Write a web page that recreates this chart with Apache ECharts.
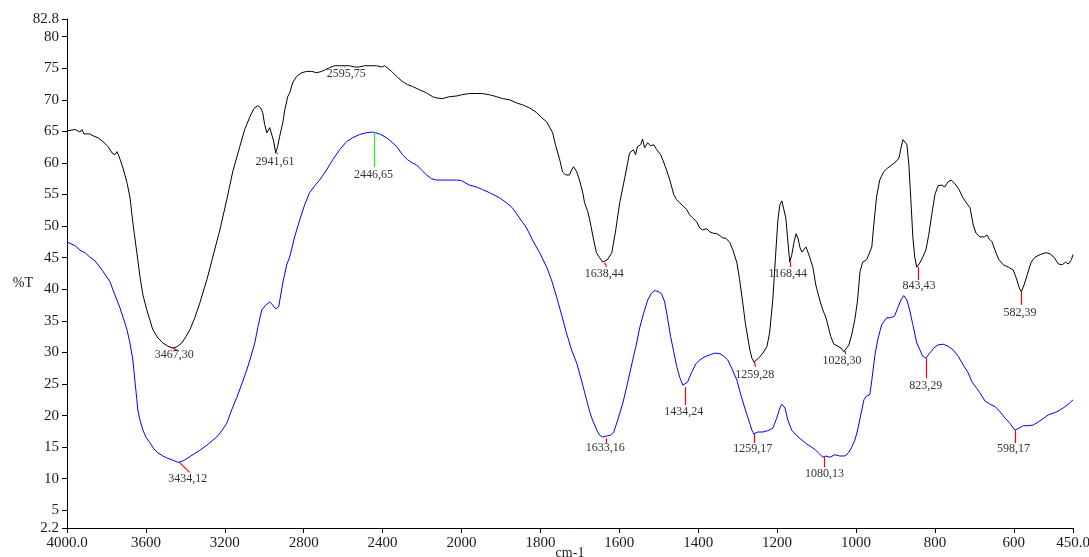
<!DOCTYPE html>
<html>
<head>
<meta charset="utf-8">
<script src="https://cdn.jsdelivr.net/npm/echarts@6/dist/echarts.min.js"></script>
<style>
html,body{margin:0;padding:0;background:#fff;}
#chart{width:1089px;height:557px;}
</style>
</head>
<body>
<div id="chart"></div>
<script>
// ---- DATA ----
const blackWn = [4000,3959,3934,3924,3914,3884,3868,3843,3818,3792,3772,3757,3747,3737,3716,3696,3681,3666,3646,3630,3615,3595,3565,3539,3514,3489,3463,3443,3418,3397,3377,3352,3327,3291,3261,3225,3190,3160,3124,3099,3073,3053,3033,3018,3008,2998,2987,2972,2962,2952,2942,2932,2922,2906,2896,2881,2871,2856,2836,2810,2785,2760,2734,2709,2689,2668,2643,2618,2593,2567,2542,2517,2491,2466,2430,2405,2390,2380,2354,2329,2299,2273,2248,2213,2177,2147,2127,2096,2061,2025,2000,1980,1962,1947,1929,1911,1896,1878,1860,1845,1827,1810,1797,1784,1777,1769,1762,1751,1744,1736,1726,1721,1716,1708,1701,1693,1688,1680,1675,1665,1658,1650,1642,1637,1630,1619,1609,1599,1586,1574,1564,1559,1554,1546,1541,1536,1528,1521,1513,1505,1500,1495,1490,1482,1472,1462,1455,1447,1437,1429,1422,1414,1404,1396,1389,1378,1371,1363,1353,1345,1337,1330,1320,1312,1302,1295,1287,1280,1269,1264,1259,1252,1244,1234,1226,1219,1211,1203,1198,1193,1188,1183,1178,1173,1168,1163,1157,1152,1147,1142,1137,1132,1127,1122,1117,1109,1102,1092,1084,1076,1071,1064,1056,1046,1038,1031,1026,1018,1011,1003,996,990,983,973,965,960,955,948,940,930,920,909,899,891,886,881,876,871,866,861,856,851,846,838,831,823,816,808,800,792,782,775,767,759,749,739,729,718,711,703,696,686,675,668,663,655,648,638,627,614,602,594,586,581,574,566,556,546,533,518,508,497,487,477,469,462,454,450];
const blackT = [65.1,65.3,64.9,65.3,64.6,64.6,64.3,64.0,63.4,62.6,61.6,61.3,61.8,61.1,59.2,56.9,54.6,50.5,45.8,42.0,39.1,36.7,33.6,32.3,31.5,31.0,30.7,30.9,31.5,32.5,33.6,35.5,37.8,41.5,45.1,49.4,54.2,58.6,62.6,65.3,67.3,68.6,69.1,68.7,68.0,66.1,64.8,65.6,65.3,63.4,61.6,62.6,64.2,66.4,68.4,70.5,71.1,72.7,73.7,74.3,74.5,74.5,74.3,74.5,74.8,75.1,75.4,75.4,75.4,75.4,75.2,75.2,75.4,75.4,75.4,75.2,75.4,75.1,74.5,73.7,72.9,72.4,72.1,71.6,71.1,70.5,70.3,70.2,70.5,70.6,70.8,71.0,71.0,71.0,70.8,70.5,70.2,70.0,69.5,69.2,68.7,68.0,67.2,66.5,65.7,64.8,62.9,60.5,58.6,58.1,58.1,58.9,59.4,58.6,57.3,55.4,53.7,52.3,51.0,47.8,45.8,45.0,44.3,44.2,44.7,45.8,49.4,53.7,57.7,61.6,62.1,61.3,62.6,62.9,63.8,62.4,63.2,62.7,62.9,62.1,62.4,61.3,61.0,59.2,57.3,55.0,54.2,53.7,53.1,52.6,51.8,51.3,50.7,49.7,49.4,49.6,49.1,48.9,48.8,48.5,48.1,48.1,47.4,46.2,44.2,41.5,37.8,34.4,30.4,29.1,28.5,28.8,29.3,30.1,30.9,33.1,38.3,46.2,51.0,53.4,54.0,53.7,51.3,47.8,44.3,45.4,47.5,48.8,48.1,46.6,45.9,46.2,46.7,45.9,45.0,43.4,40.7,38.3,36.7,35.5,35.2,32.5,31.3,31.0,30.7,30.1,30.2,31.2,32.8,35.2,38.3,42.8,44.3,44.7,45.9,46.7,50.2,54.6,57.3,58.6,59.2,59.7,60.2,60.8,62.4,63.7,63.8,62.9,59.7,54.2,48.3,45.0,43.5,44.2,45.1,46.2,48.5,51.8,55.0,56.4,56.5,56.2,57.0,57.3,56.7,55.8,54.5,53.5,52.9,50.2,48.9,48.3,48.3,48.6,48.0,47.5,46.2,44.7,43.9,43.5,43.1,41.8,40.2,39.6,40.7,42.3,44.3,45.1,45.5,45.8,45.6,45.0,44.0,43.9,44.3,44.0,44.7,45.5];

const blueWn = [4000,3959,3934,3909,3884,3858,3833,3808,3782,3767,3747,3732,3716,3696,3681,3666,3656,3646,3641,3630,3615,3600,3580,3559,3539,3514,3494,3468,3438,3413,3387,3357,3327,3291,3261,3241,3215,3190,3165,3139,3114,3089,3068,3048,3033,3013,2992,2972,2957,2942,2927,2906,2886,2871,2846,2820,2795,2770,2744,2719,2684,2653,2618,2582,2552,2517,2481,2451,2415,2380,2349,2324,2299,2273,2248,2228,2203,2177,2152,2127,2086,2051,2025,2000,1980,1962,1947,1929,1904,1886,1871,1853,1835,1820,1802,1784,1772,1759,1746,1734,1721,1708,1696,1683,1675,1668,1657,1650,1642,1637,1630,1622,1614,1604,1591,1579,1566,1556,1548,1538,1528,1518,1510,1500,1493,1485,1477,1470,1462,1455,1447,1439,1434,1427,1417,1406,1396,1384,1371,1358,1345,1335,1325,1315,1302,1292,1282,1272,1264,1259,1249,1236,1224,1211,1201,1193,1188,1180,1173,1163,1150,1137,1125,1112,1102,1092,1084,1076,1066,1054,1041,1028,1018,1011,1003,996,988,980,973,965,960,952,945,935,922,912,902,894,886,879,871,864,856,846,838,831,823,813,803,792,779,767,754,741,728,716,706,696,686,673,660,647,635,622,609,597,587,576,564,551,538,526,513,500,488,475,462,450];
const blueT = [47.5,46.9,46.2,45.8,45.1,44.5,43.5,42.4,41.2,39.9,38.3,37.1,35.6,33.6,31.5,28.8,25.6,22.5,20.9,19.3,17.7,16.6,15.7,14.7,14.1,13.6,13.3,13.0,12.6,12.8,13.3,13.9,14.5,15.3,16.1,16.6,17.6,18.8,20.9,22.9,25.0,27.2,29.3,31.5,33.9,36.7,37.5,38.0,37.5,36.9,37.2,41.0,43.9,45.1,48.3,51.0,53.4,55.3,56.4,57.3,58.9,60.5,62.1,63.4,64.0,64.5,64.8,64.9,64.6,64.0,63.2,62.4,61.3,60.5,60.0,59.7,58.9,58.1,57.5,57.3,57.3,57.3,57.3,57.2,56.5,56.2,55.8,55.3,54.5,53.7,52.9,51.3,49.7,47.8,45.8,43.5,41.5,38.8,35.9,33.1,30.4,28.3,25.6,22.5,20.6,19.3,17.7,16.9,16.6,16.4,16.8,16.9,17.4,19.3,22.0,25.2,28.8,31.5,34.0,36.3,38.3,39.4,39.8,39.6,39.3,38.0,35.2,32.5,30.1,27.9,26.1,24.8,24.5,25.3,26.8,28.2,28.8,29.3,29.6,29.9,29.8,29.4,28.8,27.5,25.6,23.3,21.2,19.3,17.7,17.1,17.4,17.4,17.6,18.0,19.6,21.2,21.8,21.2,19.3,17.7,16.8,16.1,15.5,15.0,14.5,13.9,13.4,13.6,13.4,13.8,13.6,13.6,14.2,15.0,16.1,17.7,20.1,22.5,23.1,23.3,25.6,29.6,32.0,34.4,35.5,35.5,35.8,37.1,38.3,39.0,38.3,36.7,34.4,31.5,30.4,29.4,29.1,29.9,30.7,31.2,31.3,31.0,30.4,29.4,28.0,26.8,25.3,24.5,23.6,22.3,21.8,21.4,20.6,19.6,18.7,17.7,18.0,18.4,18.4,18.5,19.0,19.5,20.1,20.4,20.7,21.2,21.8,22.5];

// peak annotations
const peakWn    = [3467, 2941, 2595, 1638, 1168, 1259, 1028, 843, 582, 3434, 2446, 1633, 1434, 1259, 1080, 823, 598];
const peakT     = [30.7, 61.6, 75.4, 44.2, 44.3, 28.5, 30.2, 43.5, 39.6, 12.6, 64.9, 16.4, 24.5, 17.1, 13.4, 29.1, 17.7];
const peakLabel = ['3467,30','2941,61','2595,75','1638,44','1168,44','1259,28','1028,30','843,43','582,39',
                   '3434,12','2446,65','1633,16','1434,24','1259,17','1080,13','823,29','598,17'];

// axis ticks (wavenumber / %T)
const xTicks = [4000,3600,3200,2800,2400,2000,1800,1600,1400,1200,1000,800,600,450];
const yTicks = [2.2,5,10,15,20,25,30,35,40,45,50,55,60,65,70,75,80,82.8];

// ---- STYLE (marker line offsets px, colour, label offsets px) ----
const RED = '#ff0000', GREEN = '#22ee22';
const peakMarkStyle = [
  [6,3,RED,2,1],[1,1,RED,-1,3],[0,2,GREEN,2,2],[2,4,RED,0,5],[0,5,RED,-2,6],[1,5,RED,1,7],[0,3,RED,-3,4],
  [0,13,RED,1,13],[0,13,RED,-1,15],[10,10,RED,9,11],[0,35,GREEN,0,37],[0,5,RED,-1,4],[0,18,RED,-1,19],
  [0,9,RED,-1,9],[0,10,RED,0,11],[0,20,RED,0,22],[0,13,RED,-1,13]
];

// The instrument's abscissa is compressed 2:1 above 2000 cm-1
function toAxis(wn){ return wn > 2000 ? 2000 + (wn - 2000) / 2 : wn; }
function fromAxis(u){ return u > 2000 ? 2000 + (u - 2000) * 2 : u; }

const FONT = 'Liberation Serif';
const chart = echarts.init(document.getElementById('chart'), null, {renderer:'canvas'});

const blackData = blackWn.map((w,i)=>[toAxis(w), blackT[i]]);
const blueData = blueWn.map((w,i)=>[toAxis(w), blueT[i]]);
const peakData = peakWn.map((w,i)=>[toAxis(w), peakT[i], i]);

chart.setOption({
  animation:false,
  backgroundColor:'#fff',
  grid:{left:67, right:16, top:19, bottom:29, containLabel:false, outerBoundsMode:'none'},
  xAxis:{
    type:'value', inverse:true, min:toAxis(450), max:toAxis(4000),
    name:'cm-1', nameLocation:'middle', nameGap:18, nameMoveOverlap:false,
    nameTextStyle:{fontFamily:FONT, fontSize:14, color:'#222', verticalAlign:'top'},
    axisLine:{show:true, lineStyle:{color:'#000', width:1}},
    axisTick:{show:true, length:5, customValues:xTicks.map(toAxis), lineStyle:{color:'#000'}},
    axisLabel:{customValues:xTicks.map(toAxis), margin:8, fontFamily:FONT, fontSize:15, color:'#1a1a1a',
      formatter:function(v){ const w = Math.round(fromAxis(v)); return (w===4000||w===450) ? w.toFixed(1) : String(w); }},
    splitLine:{show:false}
  },
  yAxis:{
    type:'value', min:2.2, max:82.8,
    name:'%T', nameLocation:'middle', nameGap:34, nameRotate:0, nameMoveOverlap:false,
    nameTextStyle:{fontFamily:FONT, fontSize:14, color:'#1a1a1a', verticalAlign:'top', padding:[3,0,0,0]},
    axisLine:{show:true, lineStyle:{color:'#000', width:1}},
    axisTick:{show:true, length:5, customValues:yTicks, lineStyle:{color:'#000'}},
    axisLabel:{customValues:yTicks, margin:8, fontFamily:FONT, fontSize:15, color:'#1a1a1a',
      formatter:function(v){ return (Math.abs(v-82.8)<1e-6||Math.abs(v-2.2)<1e-6) ? v.toFixed(1) : String(Math.round(v)); }},
    splitLine:{show:false}
  },
  series:[
    {type:'line', data:blackData, showSymbol:false, symbol:'none', lineStyle:{color:'#000', width:1}, silent:true, z:2},
    {type:'line', data:blueData, showSymbol:false, symbol:'none', lineStyle:{color:'#0000ff', width:1}, silent:true, z:2},
    {type:'custom', data:peakData, z:3, silent:true,
     renderItem:function(params, api){
       const p = api.coord([api.value(0), api.value(1)]);
       const i = api.value(2);
       const s = peakMarkStyle[i];
       const x0 = Math.round(p[0]) + 0.5;
       return {type:'group', children:[
         {type:'line', shape:{x1:x0, y1:p[1], x2:x0+s[0], y2:p[1]+s[1]}, style:{stroke:s[2], lineWidth:1.2}},
         {type:'text', x:p[0]+s[3], y:p[1]+s[4], style:{text:peakLabel[i], fill:'#333', fontFamily:FONT, fontSize:12, align:'center', verticalAlign:'top'}}
       ]};
     }}
  ]
});
</script>
</body>
</html>
